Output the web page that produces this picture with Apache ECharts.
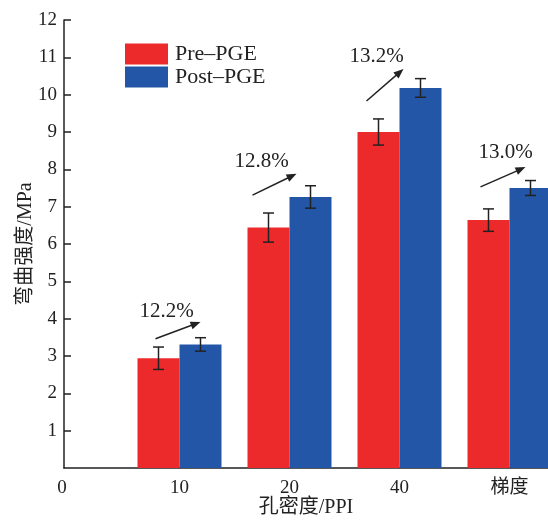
<!DOCTYPE html>
<html>
<head>
<meta charset="utf-8">
<script src="https://cdn.jsdelivr.net/npm/echarts@6/dist/echarts.min.js"></script>
<style>
html, body { margin: 0; padding: 0; background: #fff; }
#chart { width: 548px; height: 520px; }
</style>
</head>
<body>
<div id="chart"></div>
<script>
const tickLabels = ['0', '10', '20', '40', '梯度']
const categories = ['10', '20', '40', '梯度']
const preMean = [2.94, 6.44, 9.0, 6.64]
const preErr = [0.3, 0.39, 0.35, 0.3]
const postMean = [3.31, 7.26, 10.18, 7.5]
const postErr = [0.18, 0.3, 0.25, 0.2]
const gainLabels = ['12.2%', '12.8%', '13.2%', '13.0%']

// annotation placement: y in MPa, dx in px from the group centre
const arrowLayout = [
  { tailY: 3.46, headY: 3.91, textY: 4.2, tailDx: -24, headDx: 21, textDx: -13 },
  { tailY: 7.31, headY: 7.88, textY: 8.22, tailDx: -37, headDx: 7, textDx: -28 },
  { tailY: 9.83, headY: 10.69, textY: 11.01, tailDx: -33, headDx: 4, textDx: -23 },
  { tailY: 7.53, headY: 8.06, textY: 8.44, tailDx: -29, headDx: 16, textDx: -4 },
]

const FONT = '"Liberation Serif", "Noto Sans CJK SC", serif'
const INK = '#222'
const RED = '#ec2a2c'
const BLUE = '#2356a6'
const BAR_W = 42

const chart = echarts.init(document.getElementById('chart'))

const errData = []
categories.forEach((c, i) => {
  errData.push([i + 1, preMean[i], preErr[i], -1])
  errData.push([i + 1, postMean[i], postErr[i], 1])
})

function renderErr(params, api) {
  const x = api.value(0)
  const m = api.value(1)
  const e = api.value(2)
  const side = api.value(3)
  const top = api.coord([x, m + e])
  const bot = api.coord([x, m - e])
  const cx = top[0] + side * BAR_W / 2
  const cap = 5.5
  const style = { stroke: INK, lineWidth: 1.5 }
  return {
    type: 'group',
    children: [
      { type: 'line', shape: { x1: cx, y1: top[1], x2: cx, y2: bot[1] }, style },
      { type: 'line', shape: { x1: cx - cap, y1: top[1], x2: cx + cap, y2: top[1] }, style },
      { type: 'line', shape: { x1: cx - cap, y1: bot[1], x2: cx + cap, y2: bot[1] }, style },
    ],
  }
}

function renderArrow(params, api) {
  const i = params.dataIndex
  const L = arrowLayout[i]
  const x = api.value(0)
  const cx = api.coord([x, 0])[0]
  const t = [cx + L.tailDx, api.coord([x, L.tailY])[1]]
  const h = [cx + L.headDx, api.coord([x, L.headY])[1]]
  const dx = h[0] - t[0]
  const dy = h[1] - t[1]
  const len = Math.sqrt(dx * dx + dy * dy)
  const ux = dx / len
  const uy = dy / len
  const al = 10
  const aw = 4
  const bx = h[0] - ux * al
  const by = h[1] - uy * al
  return {
    type: 'group',
    children: [
      { type: 'line', shape: { x1: t[0], y1: t[1], x2: bx + ux * 2, y2: by + uy * 2 }, style: { stroke: INK, lineWidth: 1.5 } },
      {
        type: 'polygon',
        shape: { points: [h, [bx - uy * aw, by + ux * aw], [bx + uy * aw, by - ux * aw]] },
        style: { fill: INK },
      },
      {
        type: 'text',
        x: cx + L.textDx,
        y: api.coord([x, L.textY])[1],
        style: {
          text: gainLabels[i],
          fill: INK,
          font: '21px ' + FONT,
          align: 'center',
          verticalAlign: 'middle',
        },
      },
    ],
  }
}

const option = {
  animation: false,
  grid: { left: 64, right: 0, top: 20, bottom: 52, outerBoundsMode: 'none' },
  legend: {
    data: ['Pre–PGE', 'Post–PGE'],
    orient: 'vertical',
    left: 125,
    top: 43,
    padding: 0,
    itemWidth: 43,
    itemHeight: 21,
    itemGap: 1,
    icon: 'rect',
    textStyle: { fontFamily: FONT, fontSize: 22, color: INK, padding: [0, 0, 0, 2] },
  },
  xAxis: {
    type: 'value',
    min: -0.05,
    max: 4.35,
    name: '孔密度/PPI',
    nameLocation: 'middle',
    nameGap: 30,
    nameMoveOverlap: false,
    nameTextStyle: { fontFamily: FONT, fontSize: 20, color: INK },
    axisLine: { show: true, onZero: false, lineStyle: { color: INK, width: 1.5 } },
    axisTick: { show: false },
    splitLine: { show: false },
    axisLabel: {
      customValues: [0, 1, 2, 3, 4],
      margin: 11,
      fontFamily: FONT,
      fontSize: 19,
      color: INK,
      formatter: v => (v === 0 ? '{z|0}' : tickLabels[Math.round(v)]),
      rich: { z: { fontFamily: FONT, fontSize: 19, color: INK, padding: [0, 15, 0, 0] } },
    },
  },
  yAxis: {
    type: 'value',
    min: 0,
    max: 12,
    interval: 1,
    name: '弯曲强度/MPa',
    nameLocation: 'middle',
    nameGap: 28,
    nameMoveOverlap: false,
    nameTextStyle: { fontFamily: FONT, fontSize: 20, color: INK },
    axisLine: { show: true, onZero: false, lineStyle: { color: INK, width: 1.5 } },
    axisTick: { show: true, inside: true, length: 7, lineStyle: { color: INK, width: 1.5 } },
    splitLine: { show: false },
    axisLabel: { showMinLabel: false, margin: 7, fontFamily: FONT, fontSize: 19, color: INK },
  },
  series: [
    {
      name: 'Pre–PGE',
      type: 'bar',
      barWidth: BAR_W,
      barGap: '0%',
      itemStyle: { color: RED },
      data: preMean.map((v, i) => [i + 1, v]),
    },
    {
      name: 'Post–PGE',
      type: 'bar',
      barWidth: BAR_W,
      barGap: '0%',
      itemStyle: { color: BLUE },
      data: postMean.map((v, i) => [i + 1, v]),
    },
    {
      type: 'custom',
      renderItem: renderErr,
      data: errData,
      z: 5,
      silent: true,
    },
    {
      type: 'custom',
      renderItem: renderArrow,
      data: categories.map((c, i) => [i + 1, postMean[i]]),
      z: 5,
      silent: true,
    },
  ],
}

chart.setOption(option)
</script>
</body>
</html>
